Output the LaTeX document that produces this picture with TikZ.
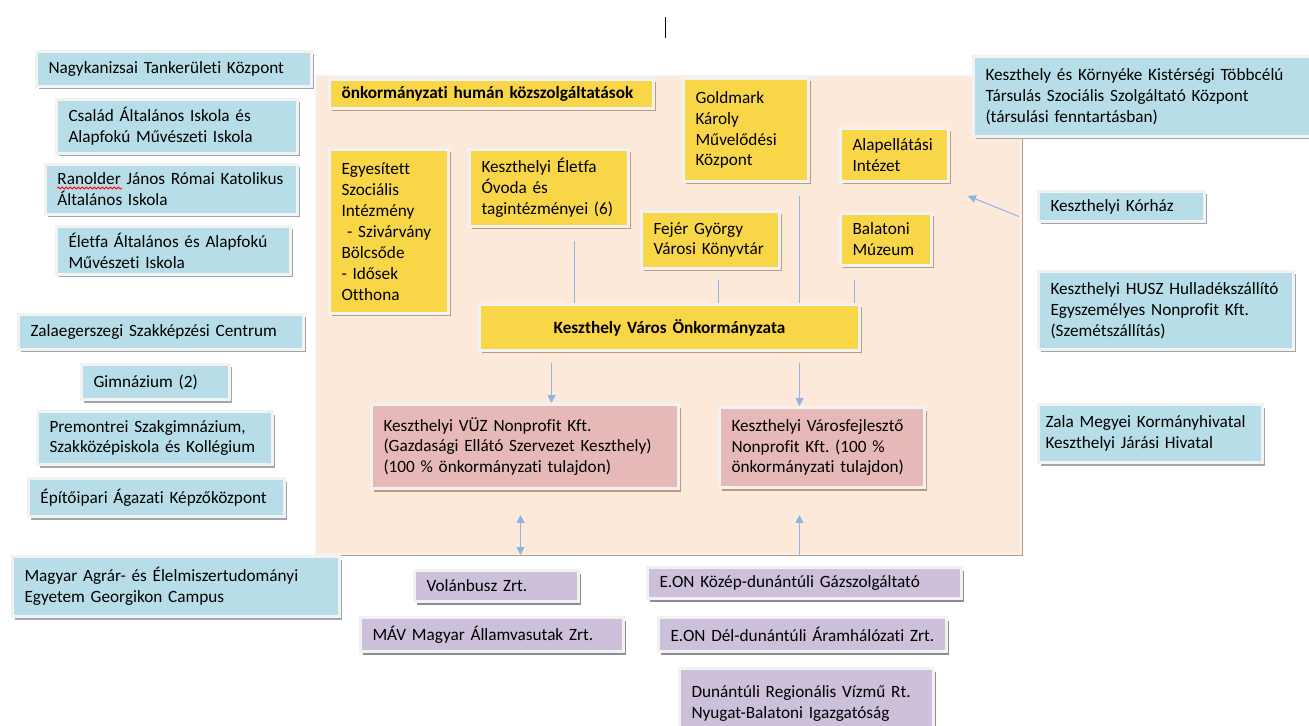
\documentclass[tikz,border=0pt]{standalone}
\usepackage{fontspec}
\setmainfont{Carlito}[Ligatures=NoCommon]
\usepackage{tikz}
\usetikzlibrary{arrows.meta, shadows, decorations.pathmorphing}
\definecolor{boxblue}{HTML}{B7DEE8}
\definecolor{boxyellow}{HTML}{F9D648}
\definecolor{boxpink}{HTML}{E6B8B7}
\definecolor{boxpurple}{HTML}{CCC0DA}
\definecolor{panelfill}{HTML}{FDE9D9}
\definecolor{boxedge}{HTML}{F2F2F2}
\definecolor{linkblue}{HTML}{8EB4E3}
\definecolor{shadowgray}{HTML}{9FA7AB}
\definecolor{shadowbrown}{HTML}{C4967A}
\definecolor{shadowpurple}{HTML}{8E8A94}
\newlength{\pix}
\setlength{\pix}{0.02cm}
\frenchspacing
\hyphenpenalty=10000
\exhyphenpenalty=10000

\begin{document}
\begin{tikzpicture}[x=0.02cm, y=-0.02cm,
    box/.style={rectangle, draw=boxedge, line width=3\pix, inner xsep=12\pix, inner ysep=0pt,
        anchor=north west, align=left, font=\fontsize{9.8pt}{11.9pt}\selectfont},
    bluebox/.style={box, fill=boxblue, drop shadow={shadow xshift=2\pix, shadow yshift=-3\pix, fill=shadowgray, opacity=1}},
    yellowbox/.style={box, fill=boxyellow, drop shadow={shadow xshift=2\pix, shadow yshift=-3\pix, fill=shadowbrown, opacity=1}},
    pinkbox/.style={box, fill=boxpink, drop shadow={shadow xshift=2\pix, shadow yshift=-3\pix, fill=shadowbrown, opacity=1}},
    purplebox/.style={box, fill=boxpurple, drop shadow={shadow xshift=2\pix, shadow yshift=-3\pix, fill=shadowpurple, opacity=1}},
    panelbox/.style={rectangle, draw=boxedge, line width=2\pix, fill=panelfill, inner sep=0pt, anchor=north west,
        drop shadow={shadow xshift=2\pix, shadow yshift=-2\pix, fill=shadowbrown, opacity=1}},
    link/.style={line width=1\pix, linkblue},
    arrow/.style={-{Triangle[length=4.5pt, width=4.5pt]}, line width=1\pix, linkblue},
    dblarrow/.style={{Triangle[length=4.5pt, width=4.5pt]}-{Triangle[length=4.5pt, width=4.5pt]}, line width=1\pix, linkblue}]

    \clip (0,0) rectangle (1309,726);
    \fill[white] (0,0) rectangle (1309,726);

    % background of the municipality
    \node (panel) [panelbox, minimum width=705\pix, minimum height=478\pix] at (315,75) {};

    % left column
    \node (nagyk) [bluebox, text width=251\pix, minimum height=35\pix] at (35,50) {Nagykanizsai Tankerületi Központ};
    \node (csalad) [bluebox, text width=217\pix, minimum height=54\pix] at (55,98) {Család Általános Iskola és\\Alapfokú Művészeti Iskola};
    \node (ranolder) [bluebox, text width=228\pix, minimum height=50\pix] at (44,163) {Ranolder János Római Katolikus\\Általános Iskola};
    \node (eletfa) [bluebox, text width=210\pix, minimum height=48\pix] at (55,225) {Életfa Általános és Alapfokú\\Művészeti Iskola};
    \node (zalaeg) [bluebox, text width=261\pix, minimum height=35\pix] at (17,313) {Zalaegerszegi Szakképzési Centrum};
    \node (gimn) [bluebox, text width=124\pix, minimum height=35\pix] at (80,363) {Gimnázium (2)};
    \node (premontrei) [bluebox, text width=211\pix, minimum height=53\pix] at (36,410) {Premontrei Szakgimnázium,\\Szakközépiskola és Kollégium};
    \node (epito) [bluebox, text width=232\pix, minimum height=38\pix] at (27,477) {Építőipari Ágazati Képzőközpont};
    \node (agrar) [bluebox, text width=303\pix, minimum height=60\pix] at (11,555) {Magyar Agrár- és Élelmiszertudományi\\Egyetem Georgikon Campus};
    \draw [red, line width=0.8\pix, decorate, decoration={snake, amplitude=1\pix, segment length=4\pix}] (57,188) -- (122,188);

    % municipal institutions
    \node (humszolg) [yellowbox, text width=300\pix, minimum height=29\pix, font=\fontsize{9.8pt}{11.9pt}\selectfont\bfseries] at (328,78) {önkormányzati humán közszolgáltatások};
    \node (egyesitett) [yellowbox, text width=95\pix, minimum height=164\pix] at (328,148) {Egyesített\\Szociális\\Intézmény\\\ - Szivárvány\\Bölcsőde\\- Idősek\\Otthona};
    \node (ovoda) [yellowbox, text width=135\pix, minimum height=77\pix] at (468,148) {Keszthelyi Életfa\\Óvoda és\\tagintézményei (6)};
    \node (fejer) [yellowbox, text width=114\pix, minimum height=57\pix] at (640,210) {Fejér György\\Városi Könyvtár};
    \node (goldmark) [yellowbox, text width=101\pix, minimum height=103\pix] at (682,77) {Goldmark\\Károly\\Művelődési\\Központ};
    \node (alap) [yellowbox, text width=84\pix, minimum height=53\pix] at (839,127) {Alapellátási\\Intézet};
    \node (muzeum) [yellowbox, text width=67\pix, minimum height=52\pix] at (839,212) {Balatoni\\Múzeum};
    \node (onk) [yellowbox, text width=356\pix, minimum height=46\pix, align=center, font=\fontsize{9.8pt}{11.9pt}\selectfont\bfseries] at (478,303) {Keszthely Város Önkormányzata};

    % companies
    \node (vuz) [pinkbox, text width=283\pix, minimum height=84\pix] at (370,403) {Keszthelyi VÜZ Nonprofit Kft.\\(Gazdasági Ellátó Szervezet Keszthely)\\(100 \% önkormányzati tulajdon)};
    \node (varosf) [pinkbox, text width=181\pix, minimum height=80\pix] at (718,406) {Keszthelyi Városfejlesztő\\Nonprofit Kft. (100 \%\\önkormányzati tulajdon)};

    % service providers
    \node (volan) [purplebox, text width=140\pix, minimum height=31\pix] at (413,569) {Volánbusz Zrt.};
    \node (mav) [purplebox, text width=239\pix, minimum height=34\pix] at (359,616) {MÁV Magyar Államvasutak Zrt.};
    \node (eonkozep) [purplebox, text width=290\pix, minimum height=31\pix] at (646,566) {E.ON Közép-dunántúli Gázszolgáltató};
    \node (eondel) [purplebox, text width=264\pix, minimum height=34\pix] at (657,616) {E.ON Dél-dunántúli Áramhálózati Zrt.};
    \node (viz) [purplebox, text width=230\pix, minimum height=70\pix] at (678,667) {Dunántúli Regionális Vízmű Rt.\\Nyugat-Balatoni Igazgatóság};

    % right column
    \node (kistars) [bluebox, text width=316\pix, minimum height=80\pix] at (972,55) {Keszthely és Környéke Kistérségi Többcélú\\Társulás Szociális Szolgáltató Központ\\(társulási fenntartásban)};
    \node (korhaz) [bluebox, text width=142\pix, minimum height=30\pix] at (1037,190) {Keszthelyi Kórház};
    \node (husz) [bluebox, text width=231\pix, minimum height=78\pix] at (1037,270) {Keszthelyi HUSZ Hulladékszállító\\Egyszemélyes Nonprofit Kft.\\(Szemétszállítás)};
    \node (zala) [bluebox, text width=210\pix, inner xsep=7\pix, minimum height=58\pix] at (1037,403) {Zala Megyei Kormányhivatal\\Keszthelyi Járási Hivatal};

    % connectors
    \draw [link] ([xshift=25.5\pix, yshift=-13\pix]ovoda.south) -- ([xshift=25.5\pix]ovoda.south |- onk.north);
    \draw [link] ([xshift=8\pix, yshift=-10\pix]fejer.south) -- ([xshift=8\pix]fejer.south |- onk.north);
    \draw [link] ([xshift=53.5\pix, yshift=-13\pix]goldmark.south) -- ([xshift=53.5\pix]goldmark.south |- onk.north);
    \draw [link] ([xshift=-31.5\pix, yshift=-13\pix]muzeum.south) -- ([xshift=-31.5\pix]muzeum.south |- onk.north);
    \draw [arrow] ([xshift=-118\pix, yshift=-11\pix]onk.south) -- ([xshift=-118\pix]onk.south |- vuz.north);
    \draw [arrow] ([xshift=130\pix, yshift=-11\pix]onk.south) -- ([xshift=130\pix]onk.south |- varosf.north);
    \draw [dblarrow] ([xshift=-4.5\pix, yshift=-25\pix]vuz.south) -- ([xshift=-4.5\pix]vuz.south |- panel.south);
    \draw [arrow] ([xshift=-22.5\pix]varosf.south |- panel.south) -- ([xshift=-22.5\pix, yshift=-26\pix]varosf.south);
    \draw [arrow] ([xshift=-18\pix, yshift=-10\pix]korhaz.west) -- ([xshift=18\pix, yshift=-13\pix]alap.south east);

    % text cursor
    \draw [line width=1\pix] (665,17) -- (665,38);
\end{tikzpicture}
\end{document}
